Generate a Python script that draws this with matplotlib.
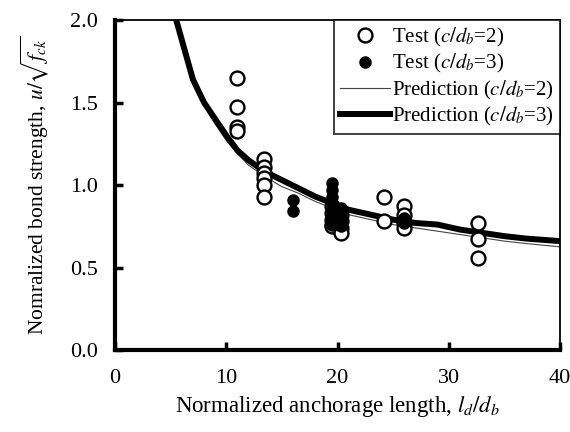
import matplotlib
matplotlib.use("Agg")
import matplotlib.pyplot as plt

plt.rcParams["font.family"] = ["Liberation Serif", "DejaVu Serif"]
plt.rcParams["mathtext.fontset"] = "stix"

# test data, c/db = 2 (open circles)
open_x = [11, 11, 11, 11,
          13.4, 13.4, 13.4, 13.4, 13.4, 13.4,
          19.5, 19.5, 19.5, 19.5, 19.5,
          20.3, 20.3, 20.3, 20.3,
          24.2, 24.2,
          26, 26, 26, 26,
          32.6, 32.6, 32.6]
open_y = [1.65, 1.47, 1.35, 1.33,
          1.16, 1.11, 1.07, 1.04, 1.00, 0.93,
          0.87, 0.83, 0.79, 0.76, 0.75,
          0.82, 0.78, 0.74, 0.71,
          0.93, 0.78,
          0.87, 0.82, 0.77, 0.74,
          0.77, 0.67, 0.56]

# test data, c/db = 3 (filled circles)
fill_x = [16, 16,
          19.5, 19.5, 19.5, 19.5, 19.5, 19.5, 19.5, 19.5,
          20.3, 20.3, 20.3, 20.3,
          26, 26]
fill_y = [0.91, 0.84,
          1.01, 0.97, 0.93, 0.89, 0.85, 0.82, 0.79, 0.76,
          0.86, 0.82, 0.78, 0.75,
          0.80, 0.77]

# prediction curves
pred_x = [5.5, 7, 8, 9, 10, 11, 12, 13.5, 15, 16.5, 18, 19.5, 21, 23, 25,
          27, 29, 31, 33, 35, 37, 40]
pred2_y = [2.0, 1.62, 1.48, 1.37, 1.27, 1.19, 1.12, 1.05, 0.99, 0.95, 0.90,
           0.86, 0.82, 0.79, 0.76, 0.74, 0.72, 0.70, 0.68, 0.66, 0.645, 0.625]
pred3_y = [2.0, 1.64, 1.50, 1.40, 1.30, 1.21, 1.15, 1.08, 1.03, 0.98, 0.93,
           0.89, 0.85, 0.82, 0.79, 0.77, 0.76, 0.73, 0.71, 0.69, 0.675, 0.66]

fig = plt.figure(figsize=(5.7, 4.32), dpi=100)
ax = fig.add_axes([0.2018, 0.1898, 0.7807, 0.7639])

ax.plot(open_x, open_y, "o", ms=10, mfc="white", mec="black", mew=1.7,
        label="Test ($c/d_b$=2)", zorder=3)
ax.plot(fill_x, fill_y, "o", ms=8, mfc="black", mec="black",
        label="Test ($c/d_b$=3)", zorder=3)
ax.plot(pred_x, pred2_y, color="#444444", lw=0.8,
        label="Prediction ($c/d_b$=2)", zorder=2)
ax.plot(pred_x, pred3_y, color="black", lw=4.3,
        label="Prediction ($c/d_b$=3)", zorder=2)

ax.set_xlim(0, 40)
ax.set_ylim(0, 2.0)
ax.set_xticks([0, 10, 20, 30, 40])
ax.set_yticks([0.0, 0.5, 1.0, 1.5, 2.0])
ax.set_yticklabels(["0.0", "0.5", "1.0", "1.5", "2.0"])
ax.tick_params(direction="in", length=6, width=2.5, labelsize=16)
ax.tick_params(axis="x", pad=14)
ax.tick_params(axis="y", pad=12)
for s in ["left", "bottom"]:
    ax.spines[s].set_linewidth(3)
for s in ["top", "right"]:
    ax.spines[s].set_linewidth(1.3)

ax.set_xlabel("Normalized anchorage length, $l_d/d_b$", fontsize=16.5, labelpad=4)
ax.set_ylabel(r"Nomralized bond strength, $u/\sqrt{f_{ck}}$", fontsize=15.5,
              labelpad=14)

leg = ax.legend(loc="upper right", fontsize=15, frameon=True, fancybox=False,
                edgecolor="black", borderaxespad=0, handlelength=2.4,
                handletextpad=0.1, labelspacing=0.15, borderpad=0.3)
leg.get_frame().set_linewidth(1.3)

fig.savefig("out.png", dpi=100)
